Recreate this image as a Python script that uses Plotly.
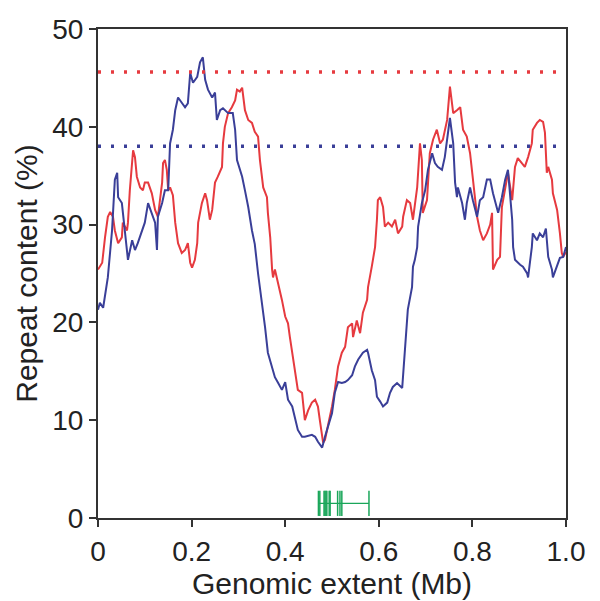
import plotly.graph_objects as go

# Blue series
blue_x = [0.000,0.004,0.011,0.017,0.021,0.030,0.036,0.041,0.043,0.051,0.058,0.064,0.073,0.079,0.085,0.094,0.100,0.107,0.115,0.122,0.126,0.128,0.137,0.143,0.150,0.154,0.160,0.165,0.171,0.179,0.186,0.192,0.197,0.203,0.212,0.218,0.224,0.229,0.235,0.244,0.250,0.254,0.261,0.267,0.278,0.288,0.293,0.297,0.308,0.314,0.321,0.329,0.335,0.342,0.350,0.357,0.363,0.372,0.378,0.385,0.393,0.400,0.406,0.415,0.421,0.427,0.436,0.442,0.457,0.464,0.470,0.479,0.485,0.491,0.500,0.506,0.513,0.521,0.528,0.534,0.543,0.549,0.556,0.566,0.575,0.577,0.585,0.592,0.596,0.603,0.609,0.618,0.624,0.630,0.639,0.650,0.656,0.662,0.671,0.673,0.677,0.682,0.684,0.692,0.699,0.705,0.714,0.720,0.726,0.735,0.741,0.746,0.752,0.759,0.763,0.767,0.769,0.778,0.784,0.788,0.795,0.801,0.810,0.816,0.823,0.831,0.838,0.844,0.855,0.863,0.870,0.876,0.880,0.885,0.887,0.891,0.902,0.908,0.917,0.919,0.927,0.929,0.938,0.944,0.951,0.957,0.962,0.970,0.972,0.981,0.987,0.994,1.000]
blue_y = [21.3,22.0,21.5,23.5,24.6,29.4,34.6,35.3,32.8,32.2,29.4,26.4,28.4,27.4,28.1,29.4,30.2,32.2,31.2,30.2,27.4,30.8,32.2,33.5,33.5,38.3,39.7,41.7,43.0,42.5,42.0,42.4,45.5,44.5,45.1,46.6,47.1,44.8,43.8,43.0,43.5,40.7,41.7,41.9,41.4,41.4,39.7,36.6,34.9,33.5,31.8,29.4,28.0,25.0,22.3,19.5,16.9,15.5,14.4,13.8,13.1,13.9,12.1,11.4,10.3,9.0,8.3,8.3,8.5,8.3,7.8,7.2,8.3,9.3,10.7,12.8,13.9,13.8,13.9,14.1,14.6,15.5,16.2,16.9,17.2,16.9,15.1,14.1,12.4,11.9,11.4,11.8,12.8,13.4,13.8,13.3,16.9,21.3,23.6,25.7,26.4,27.7,29.8,32.2,33.5,35.6,37.3,36.3,35.9,35.6,36.9,38.7,40.9,38.3,34.3,32.8,33.8,32.2,30.5,32.2,33.8,32.5,30.8,32.5,32.8,34.6,34.6,33.2,31.2,32.8,34.6,35.6,33.5,30.5,27.7,26.4,25.9,25.7,25.0,24.6,27.7,29.1,28.4,29.1,28.7,29.6,26.7,25.4,24.6,25.7,26.6,26.7,27.7]

# Red series
red_x = [0.000,0.009,0.015,0.021,0.026,0.032,0.036,0.043,0.051,0.053,0.062,0.064,0.068,0.073,0.075,0.079,0.083,0.090,0.096,0.100,0.107,0.115,0.122,0.128,0.137,0.139,0.143,0.147,0.150,0.154,0.160,0.165,0.169,0.171,0.179,0.186,0.192,0.197,0.201,0.207,0.212,0.214,0.222,0.229,0.233,0.239,0.244,0.250,0.256,0.265,0.267,0.271,0.278,0.286,0.293,0.297,0.303,0.308,0.314,0.321,0.329,0.335,0.342,0.346,0.353,0.361,0.363,0.368,0.372,0.374,0.378,0.385,0.393,0.400,0.406,0.410,0.415,0.421,0.427,0.436,0.442,0.449,0.457,0.464,0.470,0.474,0.481,0.485,0.491,0.500,0.506,0.513,0.521,0.528,0.534,0.543,0.545,0.553,0.560,0.566,0.575,0.577,0.585,0.592,0.596,0.598,0.603,0.609,0.613,0.620,0.628,0.635,0.641,0.650,0.652,0.660,0.667,0.673,0.677,0.682,0.688,0.692,0.694,0.703,0.709,0.716,0.724,0.731,0.737,0.746,0.752,0.759,0.767,0.774,0.780,0.788,0.795,0.801,0.810,0.816,0.823,0.831,0.838,0.842,0.844,0.853,0.859,0.863,0.870,0.876,0.885,0.891,0.897,0.906,0.912,0.919,0.927,0.929,0.938,0.944,0.951,0.955,0.959,0.962,0.970,0.972,0.981,0.987,0.991,0.994,1.000]
red_y = [25.4,26.1,28.7,30.8,31.3,30.8,29.4,28.1,28.7,30.2,29.4,30.2,33.5,36.6,37.6,36.9,34.9,33.8,33.5,34.3,34.3,33.2,31.5,30.8,34.3,36.3,36.6,35.6,33.5,33.8,33.0,30.2,29.0,28.1,27.1,27.4,28.1,26.1,25.6,26.4,28.1,30.2,32.2,33.2,32.5,30.5,31.5,34.3,34.9,35.9,38.3,40.0,41.4,42.0,42.7,43.8,43.6,44.0,41.7,40.7,40.4,39.5,39.0,36.6,33.8,32.8,31.2,28.7,25.4,24.6,25.4,24.0,22.3,20.6,19.9,18.5,16.9,15.1,13.1,12.8,10.0,11.0,11.8,12.1,11.4,10.0,7.7,8.0,9.3,11.4,13.1,15.5,16.9,17.5,19.5,19.9,18.5,20.2,18.9,21.0,22.3,23.6,25.7,27.7,30.5,32.5,32.8,31.8,29.8,30.2,29.8,30.5,29.1,29.8,30.8,32.5,32.2,30.5,32.0,33.8,38.3,36.6,31.2,32.5,37.3,38.7,39.7,38.3,38.7,40.7,44.1,41.4,41.7,42.0,39.7,39.0,37.3,34.9,30.8,29.4,28.4,29.1,30.0,31.2,25.4,26.4,26.7,31.8,33.8,35.3,32.5,35.9,36.8,36.3,35.9,36.9,38.3,39.7,40.4,40.7,40.5,39.4,35.3,35.9,34.6,33.2,31.5,29.1,27.1,26.7,27.2]

red_mean = 45.6
blue_mean = 38.0

marker_x = [0.471,0.474,0.483,0.485,0.487,0.489,0.494,0.496,0.512,0.517,0.521,0.579]
marker_y = [1.5]*len(marker_x)

x_ticks = [0, 0.2, 0.4, 0.6, 0.8, 1.0]
x_ticktext = ["0", "0.2", "0.4", "0.6", "0.8", "1.0"]
y_ticks = [0, 10, 20, 30, 40, 50]

RED = "#e63a3f"
BLUE = "#3a3f98"
GREEN = "#1aa65a"

fig = go.Figure()
fig.add_trace(go.Scatter(x=red_x, y=red_y, mode="lines", line=dict(color=RED, width=2)))
fig.add_trace(go.Scatter(x=blue_x, y=blue_y, mode="lines", line=dict(color=BLUE, width=2)))

fig.add_shape(type="line", xref="x", yref="y", x0=0, x1=1, y0=red_mean, y1=red_mean,
              line=dict(color=RED, width=3.5, dash="3px,10px"))
fig.add_shape(type="line", xref="x", yref="y", x0=0, x1=1, y0=blue_mean, y1=blue_mean,
              line=dict(color=BLUE, width=3.5, dash="3px,10px"))

fig.add_trace(go.Scatter(x=[min(marker_x), max(marker_x)], y=[marker_y[0]]*2, mode="lines",
                         line=dict(color=GREEN, width=1.2)))
fig.add_trace(go.Scatter(x=marker_x, y=marker_y, mode="markers",
                         marker=dict(symbol="line-ns-open", size=18, color=GREEN,
                                     line=dict(color=GREEN, width=1.5))))

tick_font = dict(family="Liberation Sans, Arial, sans-serif", size=28, color="#222")
title_font = dict(family="Liberation Sans, Arial, sans-serif", size=30, color="#222")
# page body has an 8px margin, so the plot margins are offset to land the axes in place
fig.update_layout(
    width=600, height=601,
    margin=dict(l=90, r=42, t=21, b=91),
    plot_bgcolor="white", paper_bgcolor="white",
    showlegend=False,
    font=tick_font,
)
fig.update_xaxes(range=[0, 1], tickvals=x_ticks, ticktext=x_ticktext,
                 showgrid=False, zeroline=False, showline=True, linecolor="#333", linewidth=2,
                 mirror=True, ticks="outside", ticklen=7, tickwidth=2, tickcolor="#333",
                 title=dict(text="Genomic extent (Mb)", font=title_font, standoff=6),
                 tickfont=tick_font, automargin=False)
fig.update_yaxes(range=[0, 50], tickvals=y_ticks,
                 showgrid=False, zeroline=False, showline=True, linecolor="#333", linewidth=2,
                 mirror=True, ticks="outside", ticklen=7, tickwidth=2, tickcolor="#333",
                 title=dict(text="Repeat content (%)", font=title_font, standoff=6),
                 tickfont=tick_font, automargin=False)

fig.write_html("out.html")
